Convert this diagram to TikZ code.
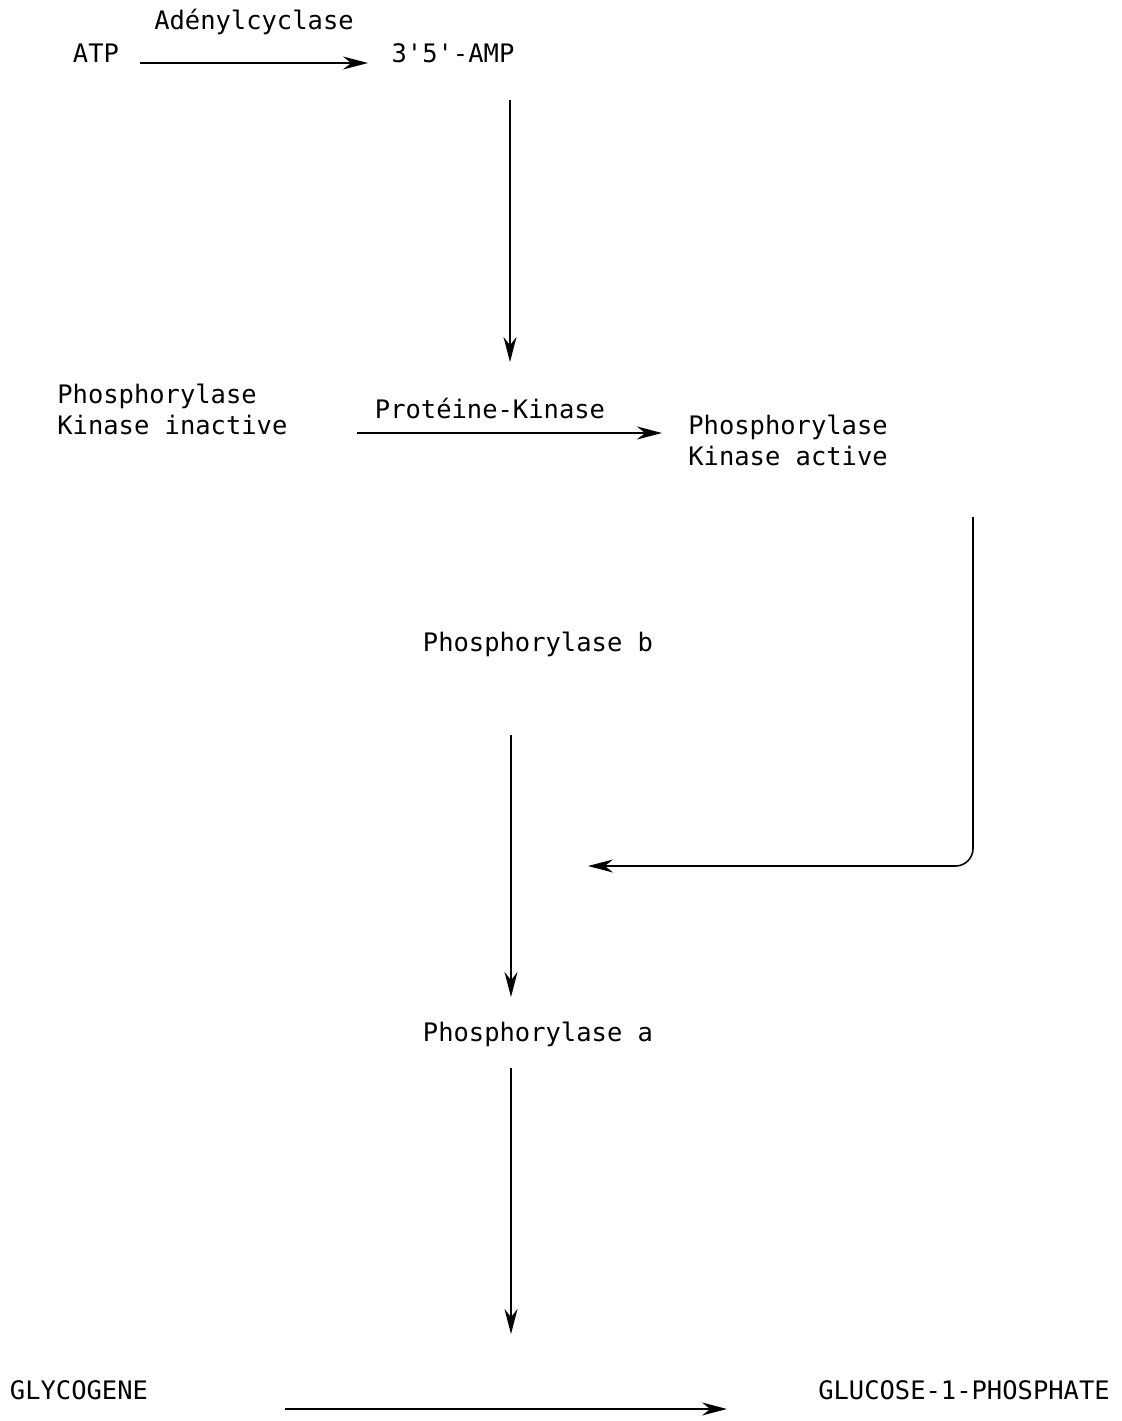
\documentclass[tikz,border=0pt]{standalone}
\usepackage{fontspec}
\setmonofont{DejaVu Sans Mono}
\usetikzlibrary{arrows.meta}
\tikzset{
	label/.style={inner sep=0pt, font=\ttfamily\fontsize{14.5}{17.6}\selectfont, align=left},
	flow/.style={line width=0.9pt, -{Stealth[length=5mm,width=2.6mm]}}
}

\begin{document}
\begin{tikzpicture}[x=0.02cm, y=-0.02cm]
			%%%%% START %%%%%
			\useasboundingbox (0, 0) rectangle (1122, 1421);
			
			% ATP -> 3'5'-AMP
			\node[label] (atp) at (96, 53) {ATP};
			\node[label] (amp) at (453, 53) {3'5'-AMP};
			\node[label] (cyclase) at (254, 22) {Adénylcyclase};
			\coordinate (c1) at (140, 63);
			\coordinate (c2) at (368, 63);
			\draw[flow] (c1) -- (c2);
			
			% 3'5'-AMP -> Proteine-Kinase
			\coordinate (c3) at (510, 100);
			\coordinate (c4) at (510, 362);
			\draw[flow] (c3) -- (c4);
			
			% kinase inactive -> active
			\node[label, anchor=west] (inactive) at (57, 409) {Phosphorylase\\Kinase inactive};
			\node[label] (protkin) at (490, 408) {Protéine-Kinase};
			\node[label, anchor=west] (active) at (688, 440) {Phosphorylase\\Kinase active};
			\coordinate (c5) at (357, 433);
			\coordinate (c6) at (662, 433);
			\draw[flow] (c5) -- (c6);
			
			% active kinase -> b to a
			\coordinate (c7) at (973, 517);
			\coordinate (c8) at (973, 866);
			\coordinate (c9) at (588, 866);
			\draw[flow, rounded corners=0.35cm] (c7) -- (c8) -- (c9);
			
			% phosphorylase b -> a
			\node[label] (phb) at (538, 644) {Phosphorylase b};
			\node[label] (pha) at (538, 1034) {Phosphorylase a};
			\coordinate (c10) at (511, 735);
			\coordinate (c11) at (511, 997);
			\draw[flow] (c10) -- (c11);
			
			\coordinate (c12) at (511, 1068);
			\coordinate (c13) at (511, 1334);
			\draw[flow] (c12) -- (c13);
			
			% glycogene -> glucose-1-phosphate
			\node[label] (glyco) at (79, 1390) {GLYCOGENE};
			\node[label] (g1p) at (964, 1390) {GLUCOSE-1-PHOSPHATE};
			\coordinate (c14) at (285, 1409);
			\coordinate (c15) at (727, 1409);
			\draw[flow] (c14) -- (c15);
			
			%%%%% END %%%%%
		\end{tikzpicture}
\end{document}
